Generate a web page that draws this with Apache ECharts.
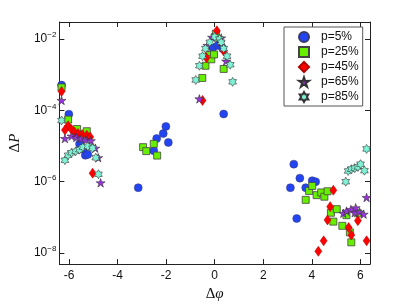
<!DOCTYPE html>
<html><head><meta charset="utf-8">
<script src="https://cdn.jsdelivr.net/npm/echarts@6/dist/echarts.min.js"></script>
<style>html,body{margin:0;padding:0;background:#fff}#c{width:409px;height:307px}</style>
</head><body><div id="c"></div>
<script>
// ---- data ----
const seriesNames = ['p=5%', 'p=25%', 'p=45%', 'p=65%', 'p=85%'];

const p5_dphi = [-6.31,-6.01,-5.57,-5.41,-5.33,-5.23,-3.15,-2.51,-2.39,-2.12,-2.01,-1.91,-0.07,0.13,0.33,0.37,3.12,3.26,3.38,3.51,3.75,4.02,4.16];
const p5_dP   = [5.1e-4,7.8e-5,1.15e-5,8.3e-6,5.5e-6,5.8e-6,6.8e-7,7.4e-6,1.62e-5,2.24e-5,3.55e-5,1.26e-5,5.8e-3,6.6e-3,5.4e-3,7.9e-5,6.8e-7,3.1e-6,9.3e-8,1.26e-6,6.8e-7,1.07e-6,1.0e-6];

const p25_dphi = [-6.31,-6.04,-5.67,-5.27,-2.95,-2.82,-2.51,-2.37,-0.51,-0.38,-0.24,-0.14,-0.03,0.05,0.37,3.75,3.89,4.02,4.20,4.39,4.52,4.65,4.79,4.89,5.03,5.26,5.43,5.57,5.63,5.90];
const p25_dP   = [4.4e-4,5.5e-5,3.0e-5,2.6e-5,9.3e-6,7.2e-6,1.15e-5,5.4e-6,8.1e-4,1.78e-3,3.55e-3,2.7e-3,3.7e-3,1.41e-2,1.45e-3,3.1e-7,5.5e-7,7.6e-7,4.2e-7,5.0e-7,3.8e-7,5.4e-7,1.35e-7,7.6e-8,1.7e-7,5.8e-8,1.15e-7,3.8e-8,2.0e-8,1.3e-7];

const p45_dphi = [-6.31,-6.04,-6.17,-5.90,-5.77,-5.63,-5.46,-5.27,-5.13,-5.03,-0.50,-0.34,0.09,0.37,4.27,4.49,4.65,4.76,4.89,5.52,5.63,5.90,6.26];
const p45_dP   = [3.4e-4,3.7e-5,2.8e-5,2.9e-5,2.45e-5,2.24e-5,2.1e-5,2.0e-5,1.8e-5,1.74e-6,1.9e-4,3.0e-3,1.7e-2,4.6e-3,1.12e-8,2.2e-8,8.5e-8,2.0e-7,5.75e-7,5.2e-8,3.2e-8,8.1e-8,2.2e-8];

const p65_dphi = [-6.31,-6.17,-5.90,-5.70,-5.50,-5.30,-5.10,-4.92,-4.80,-4.70,-0.63,-0.30,-0.11,0.23,0.27,0.47,5.30,5.43,5.61,5.77,5.81,5.97,6.14,6.26];
const p65_dP   = [1.9e-4,1.62e-5,1.9e-5,1.74e-5,1.62e-5,1.48e-5,1.41e-5,8.7e-6,4.7e-6,9.3e-7,2.1e-4,6.6e-3,1.12e-2,8.1e-3,1.07e-2,2.4e-3,1.3e-7,1.5e-7,1.66e-7,1.35e-7,1.86e-7,1.41e-7,1.23e-7,3.6e-7];

const p85_dphi = [-6.31,-6.17,-6.04,-5.90,-5.73,-5.57,-5.43,-5.23,-5.03,-4.90,-4.79,-0.78,-0.63,-0.50,-0.38,-0.20,0.00,0.20,0.27,0.37,0.51,0.64,0.74,5.40,5.50,5.63,5.77,5.90,6.01,6.17,6.26];
const p85_dP   = [5.2e-5,4.0e-6,5.5e-6,6.5e-6,7.1e-6,7.9e-6,9.3e-6,9.8e-6,8.7e-6,4.7e-6,1.62e-6,7.1e-4,1.78e-3,3.3e-3,5.4e-3,8.1e-3,1.15e-2,1.0e-2,8.1e-3,5.4e-3,3.3e-3,1.9e-3,6.3e-4,1.0e-6,2.0e-6,2.24e-6,2.4e-6,2.6e-6,3.1e-6,2.04e-6,8.3e-6];

const xTicks = [-6, -4, -2, 0, 2, 4, 6];
const yTicks = [1e-8, 1e-6, 1e-4, 1e-2];

// ---- presentation ----
const STAR = 'path://M50 0 L61.2 34.6 L97.6 34.5 L68.1 55.9 L79.4 90.5 L50 69 L20.6 90.5 L31.9 55.9 L2.4 34.5 L38.8 34.6 Z';
const HEX = 'path://M50 0 L64.4 25 L93.3 25 L78.9 50 L93.3 75 L64.4 75 L50 100 L35.6 75 L6.7 75 L21.1 50 L6.7 25 L35.6 25 Z';
const styles = [
  {symbol: 'circle', size: 8, color: '#2244f2', border: '#3a3a6a', bw: 0.5},
  {symbol: 'rect', size: 7, color: '#66f000', border: '#444', bw: 0.8},
  {symbol: 'diamond', size: [7, 10], color: '#ff0000', border: '#b00000', bw: 0.5},
  {symbol: STAR, size: 9, color: '#9933dd', border: '#333', bw: 0.6},
  {symbol: HEX, size: 9, color: '#80f2d6', border: '#333', bw: 0.6}
];
const xs = [p5_dphi, p25_dphi, p45_dphi, p65_dphi, p85_dphi];
const ys = [p5_dP, p25_dP, p45_dP, p65_dP, p85_dP];

const FONT = 'Liberation Sans';
const AX = '#222';

function expLabel(v) {
  const e = Math.round(Math.log10(v));
  return '{b|10}{s|' + (e < 0 ? '\u2212' : '') + Math.abs(e) + '}';
}

const series = seriesNames.map((name, i) => ({
  name, type: 'scatter', xAxisIndex: 0, yAxisIndex: 0,
  symbol: styles[i].symbol, symbolSize: styles[i].size, symbolKeepAspect: true,
  itemStyle: {color: styles[i].color, borderColor: styles[i].border, borderWidth: styles[i].bw, opacity: 1},
  emphasis: {disabled: true},
  data: xs[i].map((x, k) => [x, ys[i][k]])
}));

const xBase = {
  type: 'value', min: -6.4, max: 6.4,
  axisLine: {show: true, onZero: false, lineStyle: {color: AX, width: 1}},
  axisTick: {show: true, inside: true, length: 5, lineStyle: {color: AX}, customValues: xTicks},
  splitLine: {show: false}
};
const yBase = {
  type: 'log', logBase: 10, min: 4.9e-9, max: 3.0e-2,
  axisLine: {show: true, onZero: false, lineStyle: {color: AX, width: 1}},
  axisTick: {show: true, inside: true, length: 5, lineStyle: {color: AX}, customValues: yTicks},
  splitLine: {show: false}
};

const option = {
  animation: false,
  backgroundColor: '#fff',
  grid: {left: 53, right: 39, top: 22, bottom: 35, containLabel: false},
  xAxis: [
    Object.assign({}, xBase, {
      position: 'bottom',
      axisLabel: {customValues: xTicks, margin: 6, fontSize: 12, fontFamily: FONT, color: '#111'},
      name: '{d|\u0394}{v|\u03c6}', nameLocation: 'middle', nameGap: 20,
      nameTextStyle: {rich: {
        d: {fontFamily: 'Liberation Serif', fontSize: 15, color: '#111'},
        v: {fontFamily: 'Liberation Serif', fontStyle: 'italic', fontSize: 15, color: '#111'}
      }}
    }),
    Object.assign({}, xBase, {position: 'top', axisLabel: {show: false}})
  ],
  yAxis: [
    Object.assign({}, yBase, {
      position: 'left',
      axisLabel: {customValues: yTicks, margin: 3, formatter: expLabel,
        rich: {
          b: {fontSize: 12, fontFamily: FONT, color: '#111', lineHeight: 16},
          s: {fontSize: 8, fontFamily: FONT, color: '#111', lineHeight: 9, verticalAlign: 'top'}
        }},
      name: '{d|\u0394}{v|P}', nameLocation: 'middle', nameGap: 25,
      nameTextStyle: {rich: {
        d: {fontFamily: 'Liberation Serif', fontSize: 15, color: '#111'},
        v: {fontFamily: 'Liberation Serif', fontStyle: 'italic', fontSize: 15, color: '#111'}
      }}
    }),
    Object.assign({}, yBase, {position: 'right', axisLabel: {show: false}})
  ],
  legend: {
    orient: 'vertical', left: 284, top: 27,
    padding: [4, 4, 3, 14], itemGap: 3, itemWidth: 10, itemHeight: 10,
    backgroundColor: '#fff', borderColor: '#555', borderWidth: 1, borderRadius: 0,
    textStyle: {fontSize: 12, fontFamily: FONT, color: '#111', padding: [0, 0, 0, 7]},
    data: seriesNames
  },
  series
};

const chart = echarts.init(document.getElementById('c'), null, {renderer: 'canvas'});
chart.setOption(option);
</script></body></html>
